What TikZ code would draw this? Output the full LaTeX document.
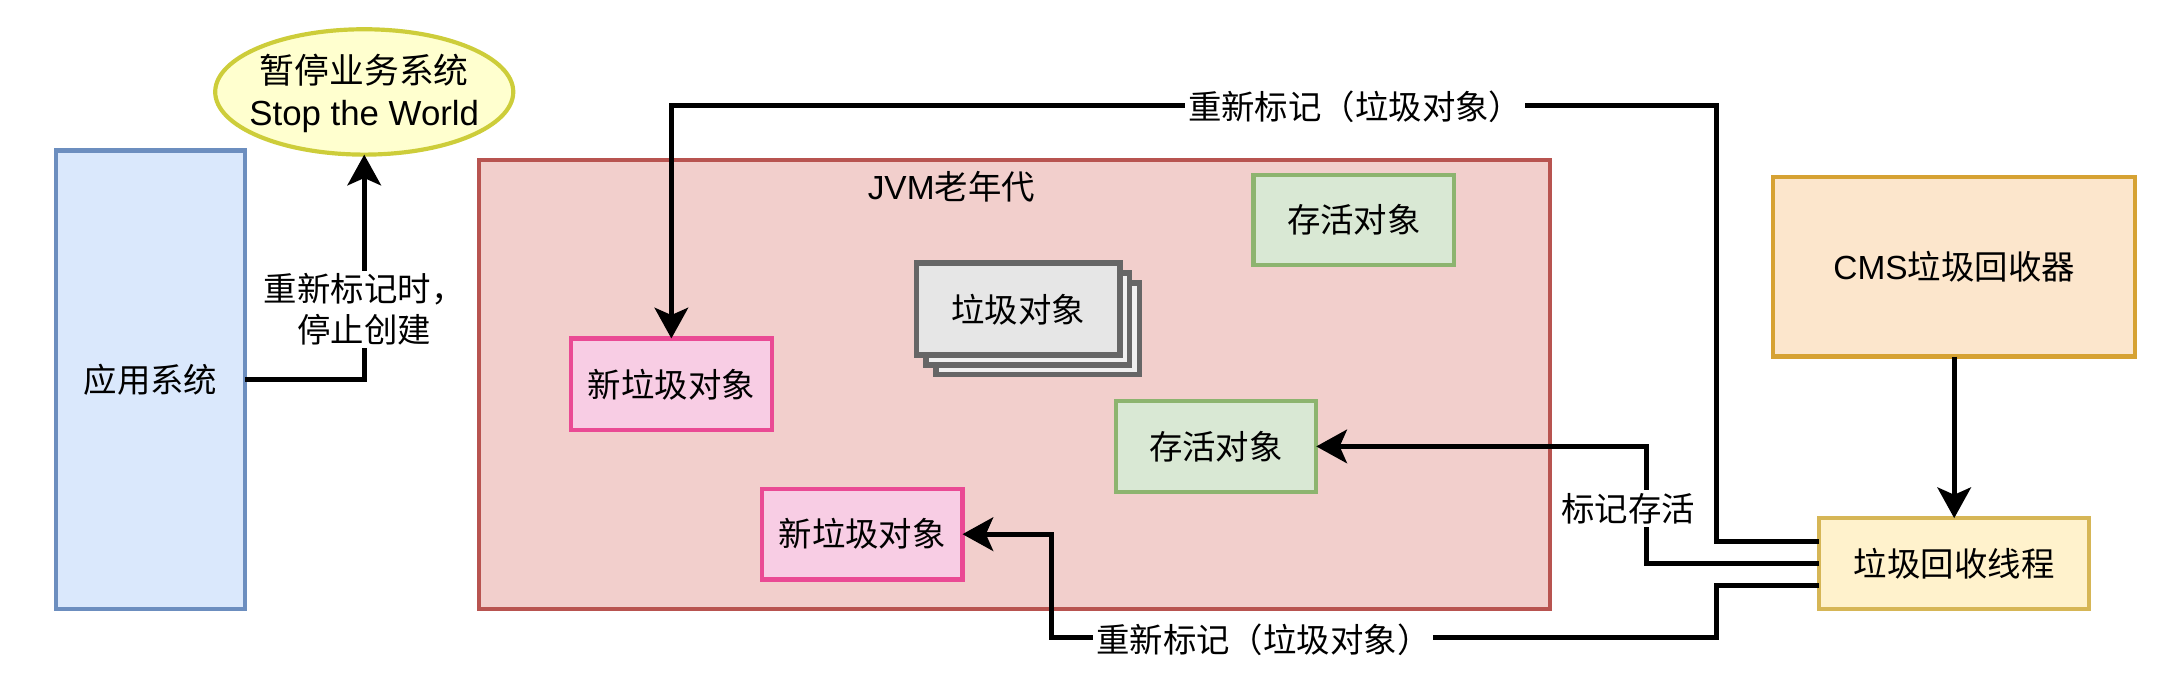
\documentclass[tikz,border=0pt]{standalone}
\usepackage{fontspec}
\setmainfont{Liberation Sans}
\newfontfamily\cjk{Noto Sans CJK SC}
\newfontfamily\lat{Liberation Sans}
\usetikzlibrary{arrows.meta,shapes.geometric,calc}
\definecolor{appfill}{HTML}{DAE8FC}\definecolor{appdraw}{HTML}{6C8EBF}
\definecolor{jvmfill}{HTML}{F2CFCC}\definecolor{jvmdraw}{HTML}{B85450}
\definecolor{livefill}{HTML}{D9E8D4}\definecolor{livedraw}{HTML}{8DB46F}
\definecolor{newfill}{HTML}{F8CDE4}\definecolor{newdraw}{HTML}{EA4A94}
\definecolor{gfill}{HTML}{E6E6E6}\definecolor{gback}{HTML}{F0F0F0}\definecolor{gdraw}{HTML}{666666}
\definecolor{cmsfill}{HTML}{FCE6CC}\definecolor{cmsdraw}{HTML}{D6A233}
\definecolor{thfill}{HTML}{FFF2CC}\definecolor{thdraw}{HTML}{D6B656}
\definecolor{swtfill}{HTML}{FFFFCF}\definecolor{swtdraw}{HTML}{CDCD3A}
\tikzset{
  txt/.style={font=\cjk\fontsize{12pt}{14.5pt}\selectfont, align=center},
  box/.style={txt, rectangle, line width=1.5pt, inner sep=0pt, outer sep=0pt},
  arr/.style={line width=1.8pt, -{Stealth[length=11pt,width=12pt,inset=2.6pt]}},
  lbl/.style={txt, fill=white, inner sep=1pt},
}
\begin{document}
\begin{tikzpicture}[x=0.5pt,y=-0.5pt]
\useasboundingbox (0,0) rectangle (1568,488);
% containers
\node[box, fill=appfill, draw=appdraw, minimum width=68pt, minimum height=164.5pt] (app) at (108,272.5) {应用系统};
\node[ellipse, fill=swtfill, draw=swtdraw, line width=1.5pt, inner sep=0pt, outer sep=0pt, minimum width=107pt, minimum height=45pt] (swt) at (261.5,66) {};
\node[txt, font=\cjk\fontsize{12.5pt}{15pt}\selectfont] (swtlbl) at (261.5,67) {暂停业务系统\\{\lat Stop the World}};
\node[box, fill=jvmfill, draw=jvmdraw, minimum width=384.5pt, minimum height=161pt] (jvm) at (728.5,276) {};
\node[txt] (jvmlbl) at (683,134) {{\lat JVM}老年代};
% objects
\node[box, fill=livefill, draw=livedraw, minimum width=72pt, minimum height=32.5pt] (live1) at (972,158) {存活对象};
\node[box, fill=livefill, draw=livedraw, minimum width=72pt, minimum height=32.5pt] (live2) at (873,320.5) {存活对象};
\node[box, fill=gback, draw=gdraw, line width=2pt, minimum width=73pt, minimum height=33pt] (g3) at (745,236) {};
\node[box, fill=gback, draw=gdraw, line width=2pt, minimum width=73pt, minimum height=33pt] (g2) at (738,229) {};
\node[box, fill=gfill, draw=gdraw, line width=2pt, minimum width=73pt, minimum height=33pt] (g1) at (731,222) {垃圾对象};
\node[box, fill=newfill, draw=newdraw, minimum width=72pt, minimum height=33pt] (new1) at (482,276) {新垃圾对象};
\node[box, fill=newfill, draw=newdraw, minimum width=72pt, minimum height=32.5pt] (new2) at (619,383.5) {新垃圾对象};
% CMS
\node[box, fill=cmsfill, draw=cmsdraw, minimum width=130pt, minimum height=64.5pt] (cms) at (1403,191.5) {{\lat CMS}垃圾回收器};
\node[box, fill=thfill, draw=thdraw, minimum width=97pt, minimum height=32.5pt] (th) at (1403,404.5) {垃圾回收线程};
% helper coordinates
\coordinate (t1) at (1232,76);
\coordinate (m1) at (1182,320.5);
\coordinate (b1) at (1232,458);
\coordinate (b2) at (755,383.5);
% connectors
\draw[arr] (app.east) -| (swt.south);
\node[lbl] (l1) at (261.5,222) {重新标记时，\\停止创建};
\draw[arr] (cms.south) -- (th.north);
\draw[arr] ($(th.west)+(0,-16)$) -| (t1) -| (new1.north);
\node[lbl] (l2) at (973,77) {重新标记（垃圾对象）};
\draw[arr] (th.west) -| (m1) -- (live2.east);
\node[lbl] (l3) at (1169,365) {标记存活};
\draw[arr] ($(th.west)+(0,16)$) -| (b1) -| (b2) -- (new2.east);
\node[lbl] (l4) at (907,459) {重新标记（垃圾对象）};
\end{tikzpicture}
\end{document}
